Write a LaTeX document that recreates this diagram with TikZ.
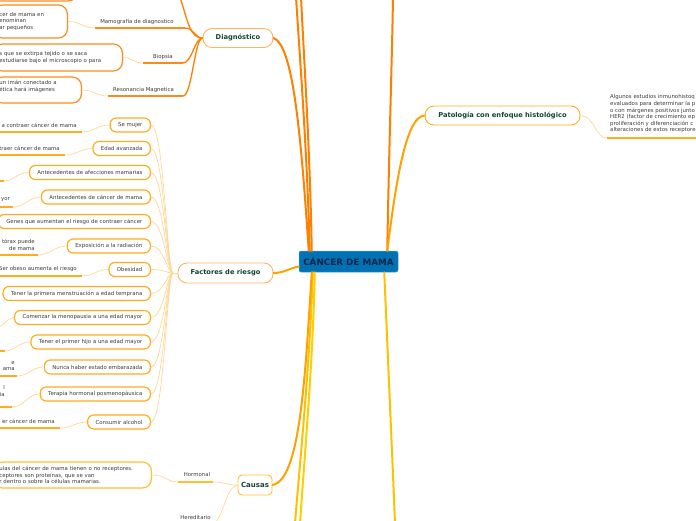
\documentclass[tikz,border=0pt]{standalone}
\usepackage{fontspec}
\setmainfont{DejaVu Sans}
\definecolor{cblue}{RGB}{0,114,180}
\definecolor{cnavy}{RGB}{16,36,72}
\definecolor{dgreen}{RGB}{18,70,52}
\definecolor{tgray}{RGB}{60,60,60}
\definecolor{orA}{RGB}{255,128,0}
\definecolor{orB}{RGB}{255,162,0}
\definecolor{orC}{RGB}{255,192,0}
\definecolor{orD}{RGB}{255,176,20}
\definecolor{lborder}{RGB}{255,180,100}
\definecolor{lfan}{RGB}{255,214,150}
\definecolor{dboxc}{RGB}{250,140,30}
\definecolor{fboxc}{RGB}{255,172,30}
\definecolor{cboxc}{RGB}{255,192,50}
\begin{document}
\begin{tikzpicture}[x=1pt,y=-1pt,
  smalltext/.style={font=\fontsize{5.4}{6.8}\selectfont, text=tgray},
  topic/.style={draw=#1, line width=0.9pt, fill=white, rounded corners=9pt, text=dgreen, font=\fontsize{6.7}{8}\selectfont\bfseries, minimum height=19pt, inner sep=0pt},
  leafbox/.style={draw=#1, line width=1.2pt, fill=white, rounded corners=6pt, smalltext, minimum height=14pt, inner xsep=8pt, inner ysep=1pt},
  bigbox/.style={draw=#1, line width=1.2pt, fill=white, rounded corners=9pt, smalltext, align=left, inner xsep=6pt, inner ysep=1pt},
  txt/.style={smalltext, inner sep=0pt},
  mainline/.style={draw=#1, line width=2pt, line cap=round},
  midline/.style={draw=#1, line width=1.3pt},
  thinline/.style={draw=lfan, line width=0.7pt},
  uline/.style={draw=#1, line width=1.3pt},
]
\useasboundingbox (0,0) rectangle (696,520);

% ---------- main nodes ----------
\node[fill=cblue, draw=cblue!70!white, line width=0.5pt, rounded corners=2pt, text=cnavy,
      font=\fontsize{8.8}{10}\selectfont\bfseries, minimum width=99pt, minimum height=21pt, inner sep=0pt]
      (c) at (348.5,261.5) {CÁNCER DE MAMA};
\node[topic=lborder, minimum width=70pt] (dg) at (238,38) {Diagnóstico};
\node[topic=lborder, minimum width=95pt, minimum height=20pt] (fr) at (225.5,273) {Factores de riesgo};
\node[topic=fboxc, minimum width=155pt] (pt) at (502.5,115.5) {Patología con enfoque histológico};
\node[topic=cboxc, rounded corners=4pt, minimum width=34pt, minimum height=20pt,
      font=\fontsize{7}{8}\selectfont\bfseries] (ca) at (255,485) {Causas};

% ---------- free ends ----------
\coordinate (eT1) at (296,-3);
\coordinate (eT2) at (301,-3);
\coordinate (eTR) at (393,-3);
\coordinate (eB1) at (295,523);
\coordinate (eB2) at (300,523);
\coordinate (eBR) at (395,523);

% ---------- main connectors ----------
\draw[mainline=orA] ([xshift=11pt]c.north west) .. controls (307,150) and (300,60) .. (eT1);
\draw[mainline=orA] ([xshift=13pt]c.north west) .. controls (310,150) and (304,60) .. (eT2);
\draw[mainline=orA] ([xshift=10pt]c.north west) .. controls (300,120) and (292,45) .. (dg.east);
\draw[mainline=orA] ([xshift=-11pt]c.north east) .. controls (389,150) and (392,60) .. (eTR);
\draw[mainline=orB] ([xshift=-11pt]c.north east) .. controls (395,190) and (405,116) .. (pt.west);
\draw[mainline=orB] ([yshift=-5pt]c.west) .. controls (290,268) and (284,273) .. (fr.east);
\draw[mainline=orC] ([xshift=14pt]c.south west) .. controls (310,360) and (301,450) .. (eB1);
\draw[mainline=orC!80!yellow] ([xshift=16pt]c.south west) .. controls (313,360) and (305,450) .. (eB2);
\draw[mainline=orC] ([xshift=-14pt]c.south east) .. controls (388,360) and (392,450) .. (eBR);
\draw[mainline=orB] ([xshift=13pt]c.south west) .. controls (305,380) and (300,480) .. (ca.east);

% ---------- Diagnóstico ----------
\node[bigbox=dboxc, anchor=south east, minimum width=88pt, minimum height=30pt] (d0) at (78,1.5) {};
\node[bigbox=dboxc, anchor=east, text width=62pt, minimum height=33pt] (da) at (68,21.5)
  {cer de mama en\\enominan\\ar pequeños};
\node[bigbox=dboxc, anchor=east, text width=117pt, minimum height=27pt] (db) at (123,57.5)
  {s que se extirpa tejido o se saca\\estudiarse bajo el microscopio o para};
\node[bigbox=dboxc, anchor=east, text width=76pt, minimum height=26pt] (dc) at (82,90)
  {un imán conectado a\\ética hará imágenes\\\strut};

\node[txt] (ma) at (137,22) {Mamografía de diagnostico};
\node[txt] (bi) at (163,57) {Biopsia};
\node[txt] (rm) at (143.5,90) {Resonancia Magnetica};
\coordinate (maL) at (95,28);  \coordinate (maR) at (185,28);
\coordinate (biL) at (143,63); \coordinate (biR) at (183,63);
\coordinate (rmL) at (108,96); \coordinate (rmR) at (183,96);
\coordinate (dtop) at (180,-3);
\draw[uline=dboxc] (maL) -- (maR);
\draw[uline=dboxc] (biL) -- (biR);
\draw[uline=dboxc] (rmL) -- (rmR);
\draw[midline=orA] (maR) .. controls +(9,0) and +(-8,0) .. (dg.west);
\draw[midline=orA] (biR) .. controls +(9,0) and +(-8,0) .. (dg.west);
\draw[midline=orA] (rmR) .. controls +(9,0) and +(-8,0) .. (dg.west);
\draw[midline=orA] (dtop) .. controls (188,22) and (190,38) .. (dg.west);
\draw[thinline] (da.east) .. controls +(12,0) and +(-12,0) .. (maL);
\draw[thinline] (db.east) .. controls +(10,0) and +(-10,0) .. (biL);
\draw[thinline] (dc.east) .. controls +(12,0) and +(-12,0) .. (rmL);

% ---------- Factores de riesgo ----------
\node[leafbox=fboxc, anchor=east] (f1) at (151,125) {Se mujer};
\node[leafbox=fboxc, anchor=east] (f2) at (151,148.5) {Edad avanzada};
\node[leafbox=fboxc, anchor=east] (f3) at (151,172.5) {Antecedentes de afecciones mamarias};
\node[leafbox=fboxc, anchor=east] (f4) at (151,197) {Antecedentes de cáncer de mama};
\node[leafbox=fboxc, anchor=east] (f5) at (151,221.5) {Genes que aumentan el riesgo de contraer cáncer};
\node[leafbox=fboxc, anchor=east] (f6) at (151,246) {Exposición a la radiación};
\node[leafbox=fboxc, anchor=east] (f7) at (151,269.5) {Obesidad};
\node[leafbox=fboxc, anchor=east] (f8) at (151,293.5) {Tener la primera menstruación a edad temprana};
\node[leafbox=fboxc, anchor=east] (f9) at (151,317.5) {Comenzar la menopausia a una edad mayor};
\node[leafbox=fboxc, anchor=east] (f10) at (151,342) {Tener el primer hijo a una edad mayor};
\node[leafbox=fboxc, anchor=east] (f11) at (151,367) {Nunca haber estado embarazada};
\node[leafbox=fboxc, anchor=east] (f12) at (151,394) {Terapia hormonal posmenopáusica};
\node[leafbox=fboxc, anchor=east] (f13) at (151,422) {Consumir alcohol};

\coordinate (fx) at (173,273);
\draw[thinline] (fr.west) -- (fx);
\foreach \i in {1,...,13}{
  \draw[thinline] (fx) .. controls +(-6,0) and +(13,0) .. (f\i.east);
}

\node[txt, anchor=east] (t1) at (77,125) {a contraer cáncer de mama};
\node[txt, anchor=east] (t2) at (60,148) {traer cáncer de mama};
\node[txt, anchor=east] (t4) at (10,200) {yor};
\node[txt, anchor=east, align=right] (t6) at (35,245) {tórax puede\\de mama};
\node[txt, anchor=east] (t7) at (77,269) {Ser obeso aumenta el riesgo};
\node[txt, anchor=east, align=right] (t11) at (15,366) {e\\ama};
\node[txt, anchor=east, align=right] (t12) at (5,391) {l\\ia};
\node[txt, anchor=east] (t13) at (55,421) {er cáncer de mama};

\coordinate (u1) at (82,132);
\coordinate (u2) at (65,155);
\coordinate (u3) at (4,181);
\coordinate (u4) at (13,207);
\coordinate (u6) at (38,255);
\coordinate (u7) at (82,276);
\coordinate (u9) at (-2,327);
\coordinate (u10) at (5,351);
\coordinate (u11) at (17,376);
\coordinate (u12) at (12,407);
\coordinate (u13) at (60,428);
\foreach \u in {u1,u2,u3,u4,u6,u7,u10,u11,u12,u13}{
  \draw[uline=fboxc] (\u) -- ++(-100,0);
}
\draw[thinline] (f1.west) .. controls +(-12,0) and +(12,0) .. (u1);
\draw[thinline] (f2.west) .. controls +(-12,0) and +(12,0) .. (u2);
\draw[thinline] (f3.west) .. controls +(-12,0) and +(10,0) .. (u3);
\draw[thinline] (f4.west) .. controls +(-12,0) and +(12,0) .. (u4);
\draw[thinline] (f6.west) .. controls +(-12,0) and +(12,0) .. (u6);
\draw[thinline] (f7.west) .. controls +(-12,0) and +(12,0) .. (u7);
\draw[thinline] (f9.west) .. controls +(-7,0) and +(6,0) .. (u9);
\draw[thinline] (f10.west) .. controls +(-12,0) and +(10,0) .. (u10);
\draw[thinline] (f11.west) .. controls +(-12,0) and +(12,0) .. (u11);
\draw[thinline] (f12.west) .. controls +(-12,0) and +(12,0) .. (u12);
\draw[thinline] (f13.west) .. controls +(-12,0) and +(12,0) .. (u13);

% ---------- Patología ----------
\node[txt, anchor=north west, align=left, font=\fontsize{5.4}{6.6}\selectfont] (pl) at (610,94.5)
  {Algunos estudios inmunohistoq\\evaluados para determinar la p\\o con márgenes positivos junto\\HER2 (factor de crecimiento ep\\proliferación y diferenciación c\\alteraciones de estos receptore};
\coordinate (pu) at (607,138);
\draw[uline=fboxc] (pu) -- ++(100,0);
\draw[thinline] (pt.east) .. controls +(14,0) and +(-12,0) .. (pu);

% ---------- Causas ----------
\node[bigbox=cboxc, anchor=east, text width=146pt, minimum height=26pt] (hb) at (152,475)
  {ulas del cáncer de mama tienen o no receptores.\\ceptores son proteínas, que se van\\r dentro o sobre la células mamarias.};
\node[txt] (ho) at (197,474) {Hormonal};
\node[txt] (he) at (195.5,517) {Hereditario};
\coordinate (hoL) at (178,482); \coordinate (hoR) at (213,482);
\coordinate (heR) at (214,524);
\draw[uline=cboxc] (hoL) -- (hoR);
\draw[thinline] (hb.east) .. controls +(14,0) and +(-12,0) .. (hoL);
\draw[thinline] (hoR) .. controls +(12,0) and +(-12,0) .. (ca.west);
\draw[thinline] (ca.west) .. controls (226,487) and (224,515) .. (heR);
\end{tikzpicture}
\end{document}
